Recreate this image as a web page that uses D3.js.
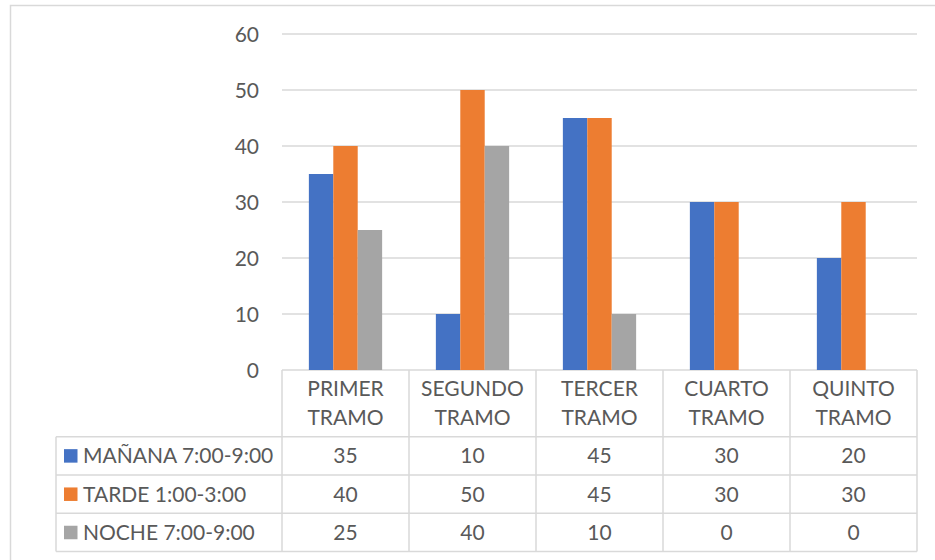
<!DOCTYPE html>
<html>
<head>
<meta charset="utf-8">
<script src="https://cdn.jsdelivr.net/npm/d3@7"></script>
<style>
  body { margin: 0; background: #fff; }
  text { font-family: Lato, "Open Sans", sans-serif; fill: #595959; }
</style>
</head>
<body>
<div class="chart"></div>
<script>
// Data
var categories = ["PRIMER TRAMO", "SEGUNDO TRAMO", "TERCER TRAMO", "CUARTO TRAMO", "QUINTO TRAMO"];
var seriesNames = ["MAÑANA 7:00-9:00", "TARDE 1:00-3:00", "NOCHE 7:00-9:00"];
var manana = [35, 10, 45, 30, 20];
var tarde = [40, 50, 45, 30, 30];
var noche = [25, 40, 10, 0, 0];
var yTicks = [0, 10, 20, 30, 40, 50, 60];

var colors = ["#4472C4", "#ED7D31", "#A5A5A5"];
var seriesValues = [manana, tarde, noche];

var svgWidth = 935;
var svgHeight = 560;
var plot = { left: 282, right: 917, top: 34, bottom: 370 };
var tableLeft = 56;
var headerBottom = 436.7;
var rowHeight = 38.3;
var gridColor = "#d9d9d9";

var svg = d3.select(".chart")
  .append("svg")
  .attr("width", svgWidth)
  .attr("height", svgHeight);

// Chart area border
svg.append("rect")
  .attr("x", 10.5).attr("y", 5.5)
  .attr("width", 940).attr("height", 570)
  .attr("fill", "none")
  .attr("stroke", gridColor)
  .attr("stroke-width", 1.5);

var y = d3.scaleLinear().domain([0, 60]).range([plot.bottom, plot.top]);
var x0 = d3.scaleBand().domain(categories).range([plot.left, plot.right]).padding(0);
var x1 = d3.scaleBand().domain(d3.range(seriesNames.length))
  .range([0, x0.bandwidth()]).paddingInner(0).paddingOuter(1.1);

// Gridlines
svg.append("g").selectAll("line")
  .data(yTicks)
  .enter()
  .append("line")
  .attr("x1", plot.left).attr("x2", plot.right)
  .attr("y1", d => y(d)).attr("y2", d => y(d))
  .attr("stroke", gridColor)
  .attr("stroke-width", 1.5);

// Y tick labels
svg.append("g").selectAll("text")
  .data(yTicks)
  .enter()
  .append("text")
  .attr("x", 259)
  .attr("y", d => y(d) + 7.5)
  .attr("text-anchor", "end")
  .attr("font-size", 21)
  .text(d => d);

// Bars
var groups = svg.append("g").selectAll("g")
  .data(categories)
  .enter()
  .append("g")
  .attr("transform", d => `translate(${x0(d)},0)`);
groups.selectAll("rect")
  .data((d, i) => seriesValues.map((s, j) => ({ s: j, v: s[i] })))
  .enter()
  .append("rect")
  .attr("x", d => x1(d.s))
  .attr("y", d => y(d.v))
  .attr("width", x1.bandwidth())
  .attr("height", d => y(0) - y(d.v))
  .attr("fill", d => colors[d.s]);

// Data table
var table = svg.append("g")
  .attr("stroke", gridColor)
  .attr("stroke-width", 1.5);
var tableBottom = headerBottom + rowHeight * seriesNames.length;
// horizontal lines
d3.range(seriesNames.length + 1).forEach(i => {
  var yy = headerBottom + rowHeight * i;
  table.append("line")
    .attr("x1", tableLeft).attr("x2", plot.right)
    .attr("y1", yy).attr("y2", yy);
});
// vertical lines for categories
var boundaries = categories.map(c => x0(c)).concat([plot.right]);
table.selectAll(".vline")
  .data(boundaries)
  .enter()
  .append("line")
  .attr("x1", d => d).attr("x2", d => d)
  .attr("y1", plot.bottom).attr("y2", tableBottom);
table.append("line")
  .attr("x1", tableLeft).attr("x2", tableLeft)
  .attr("y1", headerBottom).attr("y2", tableBottom);

// Category labels (two lines)
var catText = svg.append("g").selectAll("text")
  .data(categories)
  .enter()
  .append("text")
  .attr("text-anchor", "middle")
  .attr("font-size", 21);
catText.selectAll("tspan")
  .data(d => d.split(" ").map(w => ({ w: w, c: d })))
  .enter()
  .append("tspan")
  .attr("x", d => x0(d.c) + x0.bandwidth() / 2)
  .attr("y", (d, i) => 396 + i * 29)
  .text(d => d.w);

// Legend keys and series names
seriesNames.forEach((name, i) => {
  var cy = headerBottom + rowHeight * i + rowHeight / 2;
  svg.append("rect")
    .attr("x", 64).attr("y", cy - 6.7)
    .attr("width", 13.5).attr("height", 13.5)
    .attr("fill", colors[i]);
  svg.append("text")
    .attr("x", 83)
    .attr("y", cy + 7.5)
    .attr("font-size", 21)
    .text(name);
  svg.append("g").selectAll("text")
    .data(seriesValues[i])
    .enter()
    .append("text")
    .attr("x", (d, k) => x0(categories[k]) + x0.bandwidth() / 2)
    .attr("y", cy + 7.5)
    .attr("text-anchor", "middle")
    .attr("font-size", 21)
    .text(d => d);
});
</script>
</body>
</html>
